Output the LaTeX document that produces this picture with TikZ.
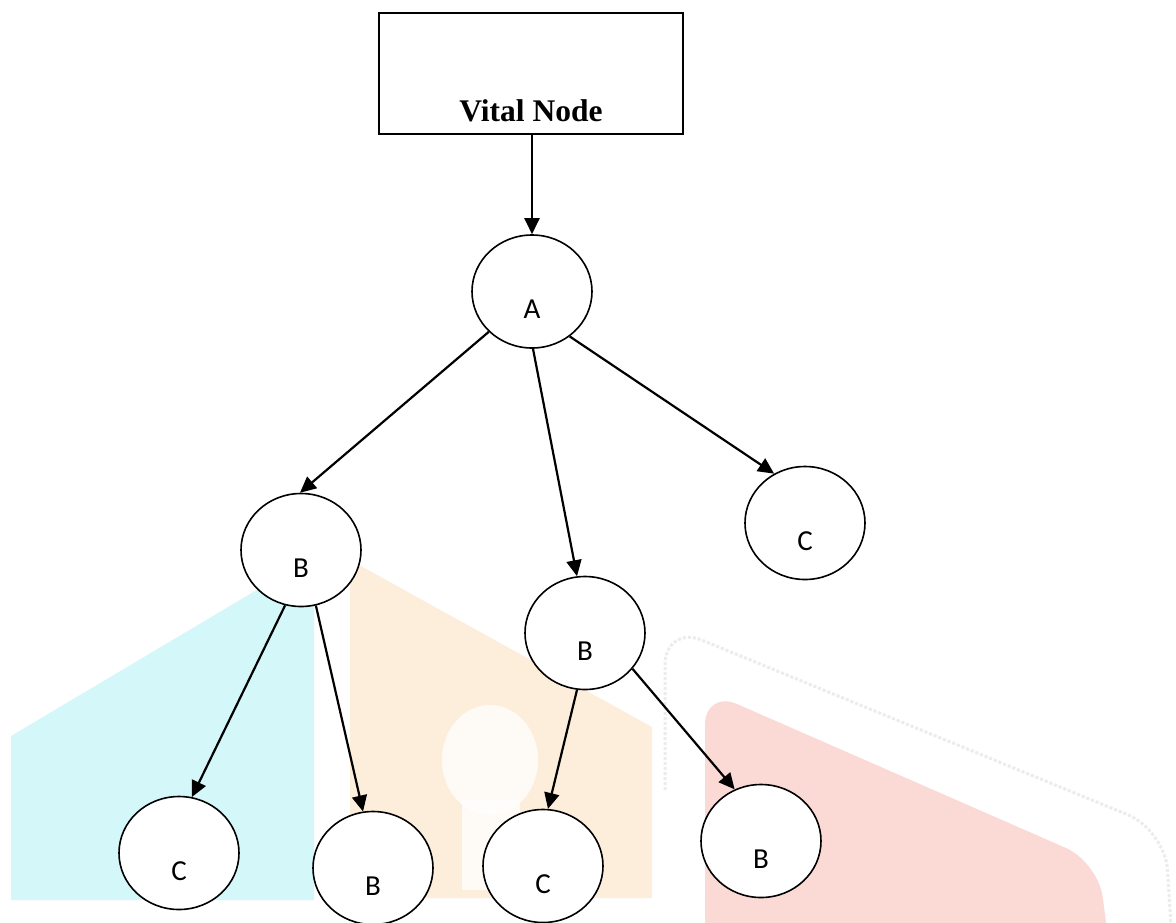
\documentclass[tikz,border=0pt]{standalone}
\usepackage{fontspec}
\setmainfont{Liberation Serif}
\newfontfamily\labfont{Carlito}
\usetikzlibrary{shapes.geometric,arrows.meta}
\definecolor{wmcyan}{RGB}{212,247,250}
\definecolor{wmorange}{RGB}{253,238,220}
\definecolor{wmred}{RGB}{251,218,214}
\tikzset{
  circ/.style={ellipse,draw,line width=1.6pt,fill=white,minimum width=120pt,minimum height=113pt,inner sep=0pt},
  arr/.style={line width=2.2pt,-{Triangle[length=16pt,width=15pt]}},
  lab/.style={font=\labfont\fontsize{29}{29}\selectfont,yshift=-18pt},
  vbox/.style={rectangle,draw,line width=1.6pt,minimum width=304pt,minimum height=121pt,inner sep=0pt}
}
\begin{document}
\begin{tikzpicture}[x=1pt,y=-1pt]
\useasboundingbox[fill=white] (0,0) rectangle (1176,922);
\clip (0,0) rectangle (1176,922);
% faint watermark
\fill[wmcyan] (11,736) -- (314,556) -- (314,900) -- (11,900) -- cycle;
\fill[wmorange] (350,560) -- (652,727) -- (652,898) -- (350,898) -- cycle;
\fill[white,opacity=0.75] (490,760) ellipse (48 and 55);
\fill[white,opacity=0.75] (462,800) rectangle (520,890);
\fill[wmred,rounded corners=35pt] (705,990) -- (705,690) -- (1098,862) -- (1115,990) -- cycle;
\draw[gray!15,line width=3pt,dotted,rounded corners=40pt] (665,790) -- (665,625) -- (1165,830) -- (1175,990);
% nodes
\node[vbox] (V) at (531,73.5) {};
\node[font=\bfseries\fontsize{31.5}{31.5}\selectfont] (Vt) at (531,111.3) {Vital Node};
\node[circ,label={[lab]center:A}] (A) at (532,291.5) {};
\node[circ,label={[lab]center:B}] (B1) at (301,550) {};
\node[circ,label={[lab]center:B}] (B2) at (585,633) {};
\node[circ,label={[lab]center:C}] (C) at (805,523) {};
\node[circ,label={[lab]center:C}] (C1) at (179,853) {};
\node[circ,label={[lab]center:B}] (B3) at (373,868) {};
\node[circ,label={[lab]center:C}] (C2) at (543,866) {};
\node[circ,label={[lab]center:B}] (B4) at (761,841) {};
% connectors
\draw[arr] (A.north |- V.south) -- (A.north);
\draw[arr] (A.223) -- (B1.91);
\draw[arr] (A.271) -- (B2.98);
\draw[arr] (A.310) -- (C.122);
\draw[arr] (B1.254) -- (C1.77);
\draw[arr] (B1.285) -- (B3.100);
\draw[arr] (B2.262) -- (C2.85);
\draw[arr] (B2.323) -- (B4.117);
\end{tikzpicture}
\end{document}
